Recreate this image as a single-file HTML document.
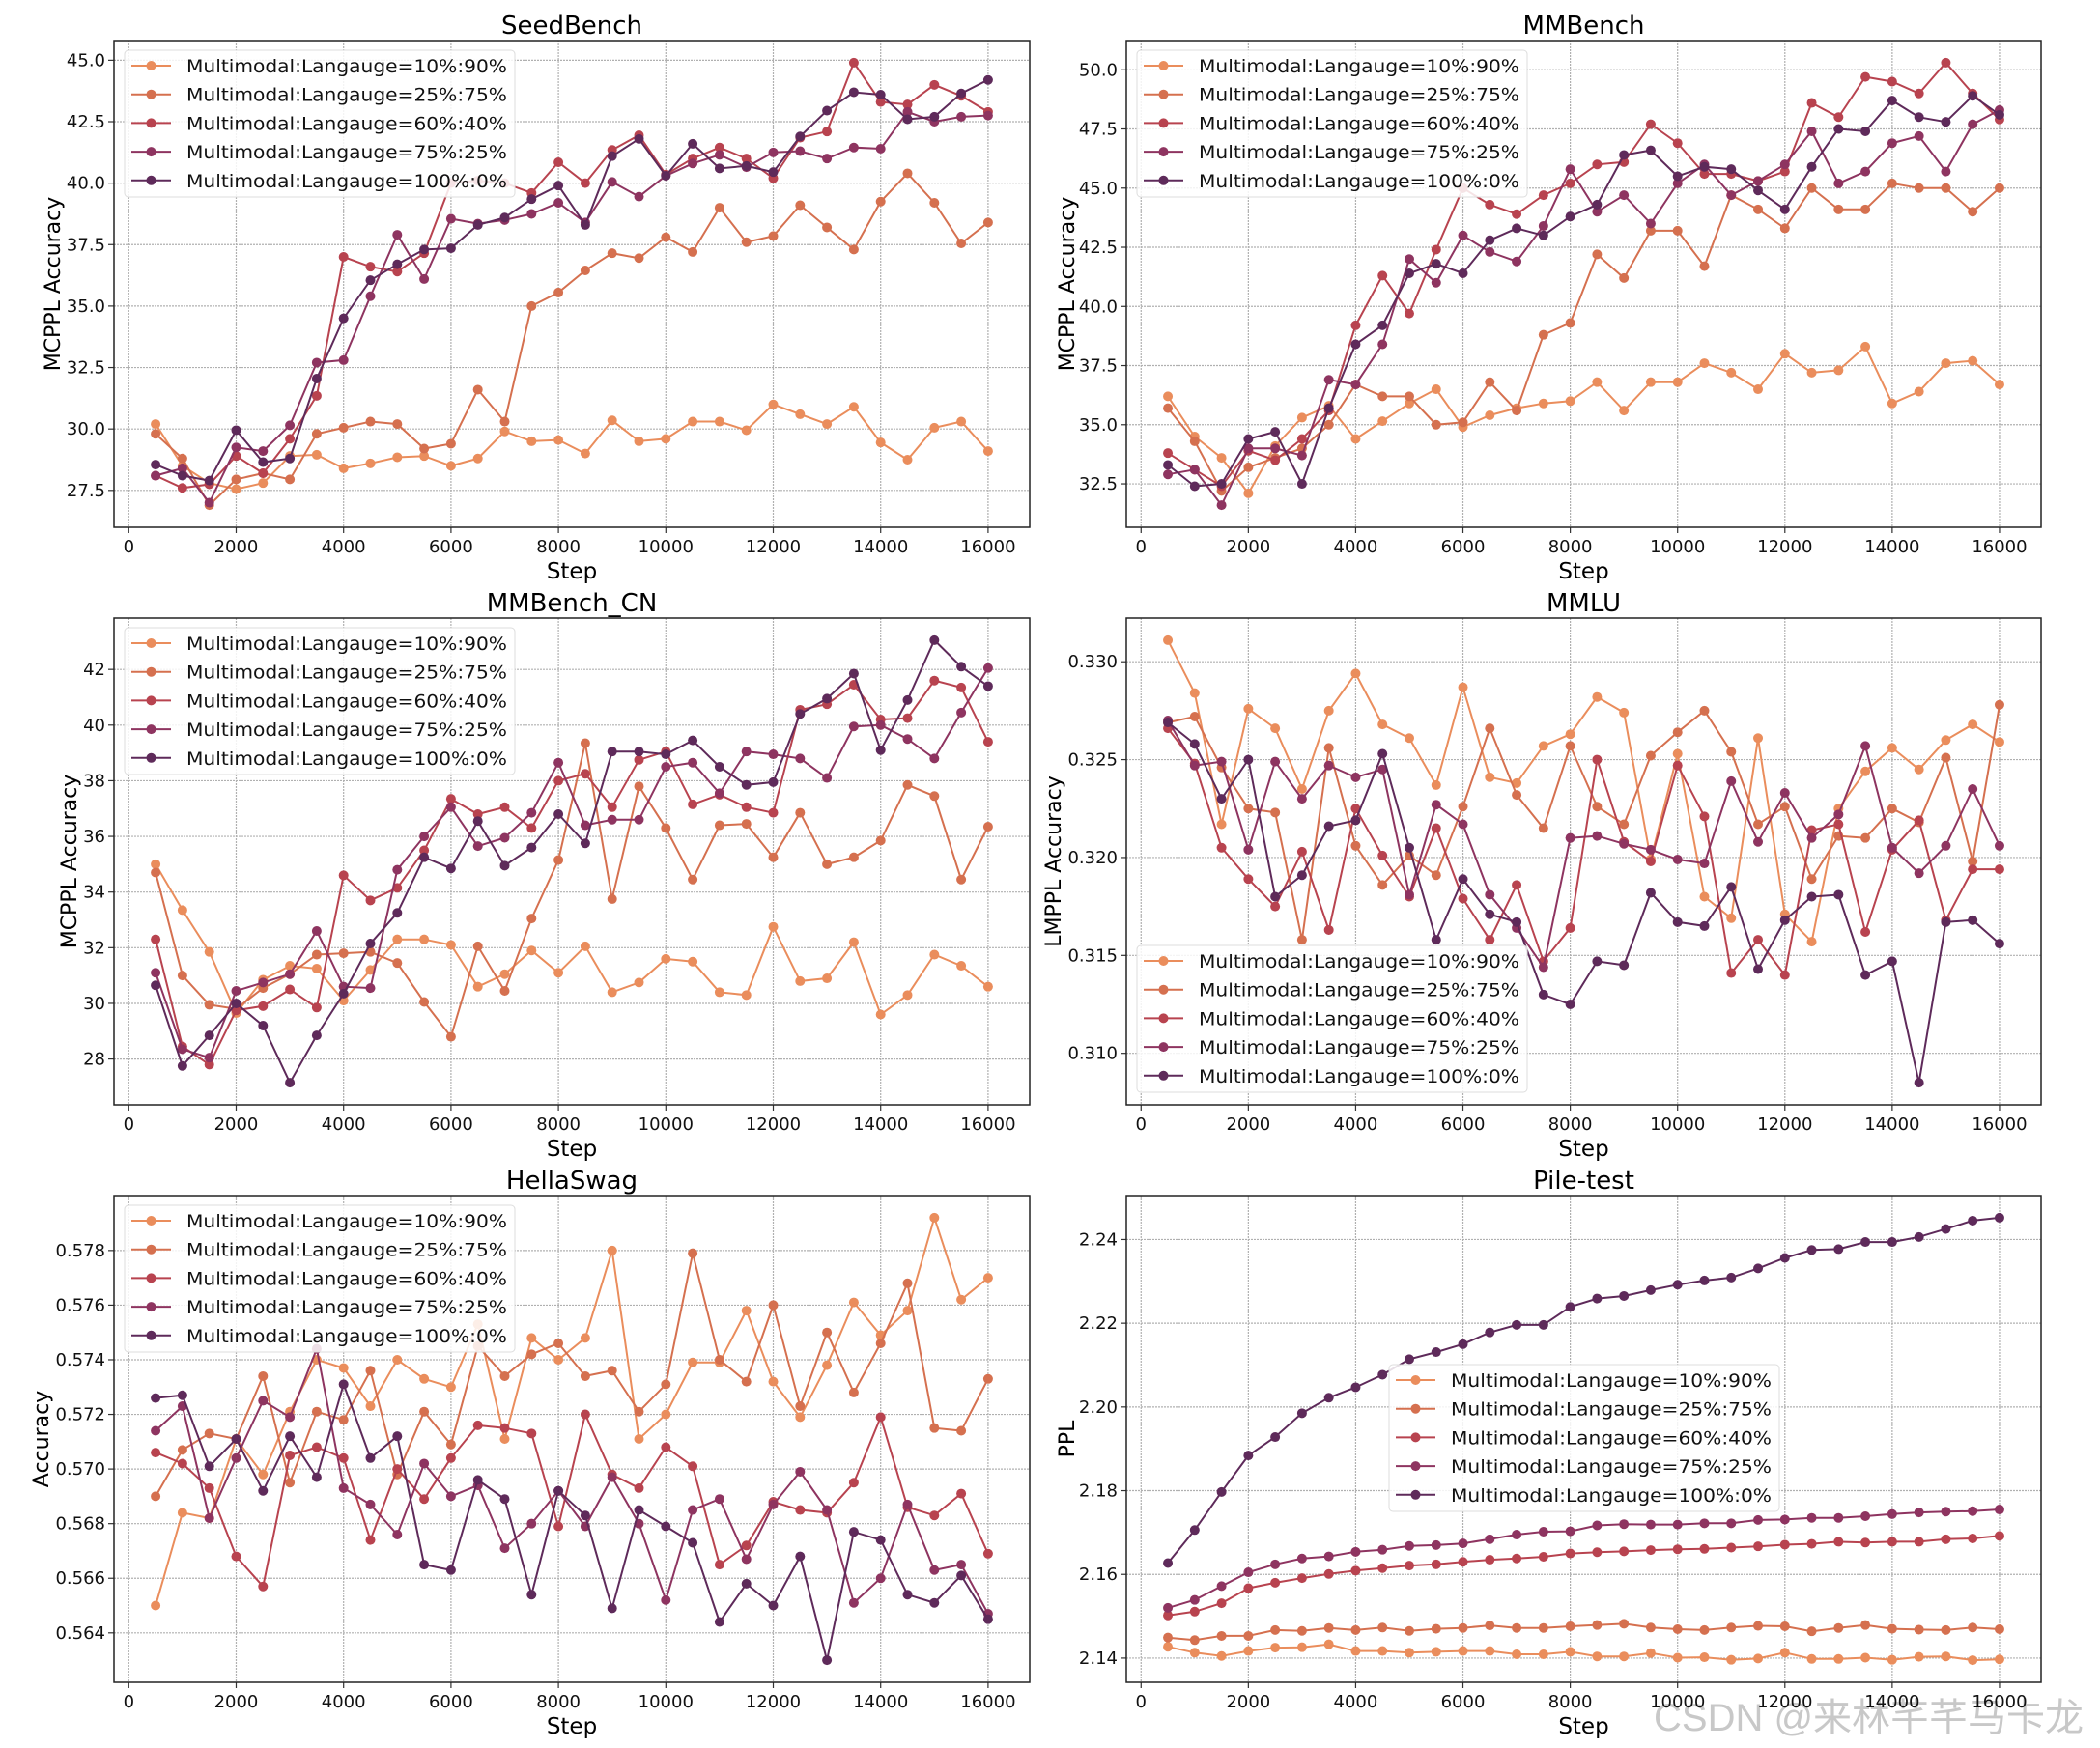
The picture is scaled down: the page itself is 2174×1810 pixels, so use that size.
<!DOCTYPE html>
<html><head><meta charset="utf-8">
<style>
html,body{margin:0;padding:0;background:#fff;}
svg{display:block;font-family:"DejaVu Sans","Liberation Sans","Noto Sans CJK SC",sans-serif;}
</style></head>
<body>
<svg id="fig" width="2174" height="1810" viewBox="0 0 2174 1810" xmlns="http://www.w3.org/2000/svg">
<rect x="0" y="0" width="2174" height="1810" fill="#ffffff"/>
<text x="1712" y="1792" font-size="40" fill="#c8c8c8" font-family="Liberation Sans, Noto Sans CJK SC, sans-serif">CSDN @来林芊芊马卡龙</text>
</svg>
<script>
const steps = [500,1000,1500,2000,2500,3000,3500,4000,4500,5000,5500,6000,6500,7000,7500,8000,8500,9000,9500,10000,10500,11000,11500,12000,12500,13000,13500,14000,14500,15000,15500,16000];
const xTicks = [0,2000,4000,6000,8000,10000,12000,14000,16000];
const seriesNames = ["Multimodal:Langauge=10%:90%","Multimodal:Langauge=25%:75%","Multimodal:Langauge=60%:40%","Multimodal:Langauge=75%:25%","Multimodal:Langauge=100%:0%"];

const seedA = [30.2,28.5,27.8,27.55,27.8,28.9,28.95,28.4,28.6,28.85,28.9,28.5,28.8,29.9,29.5,29.55,29.0,30.35,29.5,29.6,30.3,30.3,29.95,31.0,30.6,30.2,30.9,29.45,28.75,30.05,30.3,29.1];
const seedB = [29.8,28.8,26.9,27.95,28.2,27.95,29.8,30.05,30.3,30.2,29.2,29.4,31.6,30.3,35.0,35.55,36.45,37.15,36.95,37.8,37.2,39.0,37.6,37.85,39.1,38.2,37.3,39.25,40.4,39.2,37.55,38.4];
const seedC = [28.1,27.6,27.75,28.9,28.2,29.6,31.35,37.0,36.6,36.4,37.15,40.0,40.1,40.0,39.6,40.85,40.0,41.35,41.95,40.35,41.0,41.45,41.0,40.2,41.85,42.1,44.9,43.3,43.2,44.0,43.55,42.9];
const seedD = [28.1,28.4,27.0,29.25,29.1,30.15,32.7,32.8,35.4,37.9,36.1,38.55,38.35,38.5,38.75,39.2,38.4,40.05,39.45,40.3,40.8,41.15,40.65,41.25,41.3,41.0,41.45,41.4,42.9,42.5,42.7,42.75];
const seedE = [28.55,28.1,27.9,29.95,28.65,28.8,32.05,34.5,36.05,36.7,37.3,37.35,38.3,38.6,39.35,39.9,38.3,41.1,41.8,40.3,41.6,40.6,40.7,40.45,41.9,42.95,43.7,43.6,42.6,42.7,43.65,44.2];
const seedTicks = [27.5,30.0,32.5,35.0,37.5,40.0,42.5,45.0];

const mmbA = [36.2,34.5,33.6,32.1,34.1,35.3,35.8,34.4,35.15,35.9,36.5,34.9,35.4,35.7,35.9,36.0,36.8,35.6,36.8,36.8,37.6,37.2,36.5,38.0,37.2,37.3,38.3,35.9,36.4,37.6,37.7,36.7];
const mmbB = [35.7,34.3,32.2,33.2,33.6,34.0,35.0,36.7,36.2,36.2,35.0,35.1,36.8,35.6,38.8,39.3,42.2,41.2,43.2,43.2,41.7,44.7,44.1,43.3,45.0,44.1,44.1,45.2,45.0,45.0,44.0,45.0];
const mmbC = [33.8,33.1,32.4,33.9,33.5,34.4,35.6,39.2,41.3,39.7,42.4,45.0,44.3,43.9,44.7,45.2,46.0,46.1,47.7,46.9,45.6,45.6,45.3,45.7,48.6,48.0,49.7,49.5,49.0,50.3,49.0,47.9];
const mmbD = [32.9,33.1,31.6,34.0,34.0,33.7,36.9,36.7,38.4,42.0,41.0,43.0,42.3,41.9,43.4,45.8,44.0,44.7,43.5,45.2,46.0,44.7,45.3,46.0,47.4,45.2,45.7,46.9,47.2,45.7,47.7,48.3];
const mmbE = [33.3,32.4,32.5,34.4,34.7,32.5,35.7,38.4,39.2,41.4,41.8,41.4,42.8,43.3,43.0,43.8,44.3,46.4,46.6,45.5,45.9,45.8,44.9,44.1,45.9,47.5,47.4,48.7,48.0,47.8,48.9,48.1];
const mmbTicks = [32.5,35.0,37.5,40.0,42.5,45.0,47.5,50.0];

const cnA = [35.0,33.35,31.85,29.65,30.85,31.35,31.25,30.1,31.2,32.3,32.3,32.1,30.6,31.05,31.9,31.1,32.05,30.4,30.75,31.6,31.5,30.4,30.3,32.75,30.8,30.9,32.2,29.6,30.3,31.75,31.35,30.6];
const cnB = [34.7,31.0,29.95,29.8,30.55,31.05,31.75,31.8,31.85,31.45,30.05,28.8,32.05,30.45,33.05,35.15,39.35,33.75,37.8,36.3,34.45,36.4,36.45,35.25,36.85,35.0,35.25,35.85,37.85,37.45,34.45,36.35];
const cnC = [32.3,28.45,27.8,29.75,29.9,30.5,29.85,34.6,33.7,34.15,35.5,37.35,36.8,37.05,36.3,38.0,38.25,37.05,38.75,39.05,37.15,37.5,37.05,36.85,40.55,40.75,41.45,40.2,40.25,41.6,41.35,39.4];
const cnD = [31.1,28.35,28.05,30.45,30.75,31.05,32.6,30.6,30.55,34.8,36.0,37.05,35.65,35.95,36.85,38.65,36.4,36.6,36.6,38.5,38.65,37.55,39.05,38.95,38.8,38.1,39.95,40.0,39.5,38.8,40.45,42.05];
const cnE = [30.65,27.75,28.85,30.0,29.2,27.15,28.85,30.35,32.15,33.25,35.25,34.85,36.55,34.95,35.6,36.8,35.75,39.05,39.05,38.95,39.45,38.5,37.85,37.95,40.4,40.95,41.85,39.1,40.9,43.05,42.1,41.4];
const cnTicks = [28,30,32,34,36,38,40,42];

const mmluA = [0.3311,0.3284,0.3217,0.3276,0.3266,0.3235,0.3275,0.3294,0.3268,0.3261,0.3237,0.3287,0.3241,0.3238,0.3257,0.3263,0.3282,0.3274,0.3199,0.3253,0.3180,0.3169,0.3261,0.3171,0.3157,0.3225,0.3244,0.3256,0.3245,0.3260,0.3268,0.3259];
const mmluB = [0.3269,0.3272,0.3246,0.3225,0.3223,0.3158,0.3256,0.3206,0.3186,0.3201,0.3191,0.3226,0.3266,0.3232,0.3215,0.3257,0.3226,0.3217,0.3252,0.3264,0.3275,0.3254,0.3217,0.3226,0.3189,0.3211,0.3210,0.3225,0.3218,0.3251,0.3198,0.3278];
const mmluC = [0.3266,0.3248,0.3205,0.3189,0.3175,0.3203,0.3163,0.3225,0.3201,0.3180,0.3215,0.3179,0.3158,0.3186,0.3147,0.3164,0.3250,0.3208,0.3198,0.3247,0.3221,0.3141,0.3158,0.3140,0.3214,0.3217,0.3162,0.3204,0.3219,0.3168,0.3194,0.3194];
const mmluD = [0.3270,0.3247,0.3249,0.3204,0.3249,0.3230,0.3247,0.3241,0.3245,0.3181,0.3227,0.3217,0.3181,0.3164,0.3144,0.3210,0.3211,0.3207,0.3204,0.3199,0.3197,0.3239,0.3208,0.3233,0.3210,0.3222,0.3257,0.3205,0.3192,0.3206,0.3235,0.3206];
const mmluE = [0.3269,0.3258,0.3230,0.3250,0.3180,0.3191,0.3216,0.3219,0.3253,0.3205,0.3158,0.3189,0.3171,0.3167,0.3130,0.3125,0.3147,0.3145,0.3182,0.3167,0.3165,0.3185,0.3143,0.3168,0.3180,0.3181,0.3140,0.3147,0.3085,0.3167,0.3168,0.3156];
const mmluTicks = [0.310,0.315,0.320,0.325,0.330];

const hsA = [0.5650,0.5684,0.5682,0.5711,0.5698,0.5721,0.5740,0.5737,0.5723,0.5740,0.5733,0.5730,0.5753,0.5711,0.5748,0.5740,0.5748,0.5780,0.5711,0.5720,0.5739,0.5739,0.5758,0.5732,0.5719,0.5738,0.5761,0.5749,0.5758,0.5792,0.5762,0.5770];
const hsB = [0.5690,0.5707,0.5713,0.5711,0.5734,0.5695,0.5721,0.5718,0.5736,0.5698,0.5721,0.5709,0.5745,0.5734,0.5742,0.5746,0.5734,0.5736,0.5721,0.5731,0.5779,0.5740,0.5732,0.5760,0.5723,0.5750,0.5728,0.5746,0.5768,0.5715,0.5714,0.5733];
const hsC = [0.5706,0.5702,0.5693,0.5668,0.5657,0.5705,0.5708,0.5704,0.5674,0.5700,0.5689,0.5704,0.5716,0.5715,0.5713,0.5679,0.5720,0.5698,0.5693,0.5708,0.5701,0.5665,0.5672,0.5688,0.5685,0.5684,0.5695,0.5719,0.5686,0.5683,0.5691,0.5669];
const hsD = [0.5714,0.5723,0.5682,0.5704,0.5725,0.5719,0.5744,0.5693,0.5687,0.5676,0.5702,0.5690,0.5694,0.5671,0.5680,0.5692,0.5679,0.5697,0.5680,0.5652,0.5685,0.5689,0.5667,0.5687,0.5699,0.5685,0.5651,0.5660,0.5687,0.5663,0.5665,0.5647];
const hsE = [0.5726,0.5727,0.5701,0.5711,0.5692,0.5712,0.5697,0.5731,0.5704,0.5712,0.5665,0.5663,0.5696,0.5689,0.5654,0.5692,0.5683,0.5649,0.5685,0.5679,0.5673,0.5644,0.5658,0.5650,0.5668,0.5630,0.5677,0.5674,0.5654,0.5651,0.5661,0.5645];
const hsTicks = [0.564,0.566,0.568,0.570,0.572,0.574,0.576,0.578];

const pileA = [2.1427,2.1413,2.1405,2.1417,2.1425,2.1426,2.1433,2.1417,2.1417,2.1413,2.1415,2.1417,2.1417,2.1409,2.1409,2.1415,2.1404,2.1404,2.1412,2.1401,2.1402,2.1396,2.1399,2.1413,2.1398,2.1398,2.1401,2.1396,2.1403,2.1404,2.1395,2.1397];
const pileB = [2.1449,2.1443,2.1453,2.1453,2.1467,2.1465,2.1472,2.1467,2.1473,2.1465,2.1470,2.1472,2.1478,2.1472,2.1472,2.1476,2.1479,2.1482,2.1473,2.1469,2.1467,2.1473,2.1477,2.1476,2.1464,2.1472,2.1479,2.1470,2.1468,2.1467,2.1473,2.1469];
const pileC = [2.1502,2.1511,2.1531,2.1567,2.1580,2.1591,2.1601,2.1609,2.1615,2.1621,2.1624,2.1630,2.1635,2.1638,2.1642,2.1650,2.1653,2.1655,2.1658,2.1660,2.1661,2.1664,2.1667,2.1671,2.1673,2.1678,2.1676,2.1678,2.1678,2.1684,2.1686,2.1692];
const pileD = [2.1520,2.1539,2.1572,2.1605,2.1624,2.1638,2.1643,2.1654,2.1659,2.1668,2.1670,2.1674,2.1684,2.1695,2.1702,2.1703,2.1717,2.1720,2.1719,2.1719,2.1722,2.1722,2.1730,2.1731,2.1735,2.1735,2.1739,2.1744,2.1748,2.1750,2.1751,2.1755];
const pileE = [2.1627,2.1706,2.1797,2.1884,2.1928,2.1985,2.2022,2.2047,2.2077,2.2114,2.2131,2.2150,2.2178,2.2196,2.2196,2.2239,2.2259,2.2265,2.2279,2.2292,2.2302,2.2309,2.2331,2.2356,2.2375,2.2377,2.2394,2.2394,2.2406,2.2425,2.2445,2.2452];
const pileTicks = [2.14,2.16,2.18,2.20,2.22,2.24];

const colors = ["#ea8d5c","#d5704f","#b8434f","#8e3460","#5e2a5a"];
const NS = "http://www.w3.org/2000/svg";
const svg = document.getElementById('fig');

function mk(tag, attrs, parent){
  const e = document.createElementNS(NS, tag);
  for (const k in attrs) e.setAttribute(k, attrs[k]);
  (parent||svg).appendChild(e);
  return e;
}

function drawChart(cfg){
  const g = mk('g', {});
  
  
  const L=cfg.L, R=cfg.R, T=cfg.T, B=cfg.B;
  const xmin = Math.min(...steps), xmax = Math.max(...steps), xr = xmax-xmin;
  const x0 = xmin-0.05*xr, x1 = xmax+0.05*xr;
  let all = [];
  cfg.series.forEach(s=>{ all = all.concat(s); });
  const ymin = Math.min(...all), ymax = Math.max(...all), yr = ymax-ymin;
  const y0 = ymin-0.05*yr, y1 = ymax+0.05*yr;
  const X = v => L + (v-x0)/(x1-x0)*(R-L);
  const Y = v => B - (v-y0)/(y1-y0)*(B-T);
  xTicks.forEach(t=>{
    const ln = mk('line', {x1:X(t), x2:X(t), y1:T, y2:B, stroke:'#b0b0b0', 'stroke-width':1.2, 'stroke-dasharray':'2,1'}, g);
    
    
    const tk = mk('line', {x1:X(t), x2:X(t), y1:B, y2:B+6, stroke:'#333', 'stroke-width':1.2}, g);
    
    
    const tx = mk('text', {x:X(t), y:B+26, 'font-size':18, 'text-anchor':'middle', fill:'#111'}, g);
    tx.textContent = String(t);
    
    
  });
  cfg.ticks.forEach(t=>{
    const ln = mk('line', {x1:L, x2:R, y1:Y(t), y2:Y(t), stroke:'#b0b0b0', 'stroke-width':1.2, 'stroke-dasharray':'2,1'}, g);
    
    
    const tk = mk('line', {x1:L-6, x2:L, y1:Y(t), y2:Y(t), stroke:'#333', 'stroke-width':1.2}, g);
    
    
    const tx = mk('text', {x:L-9, y:Y(t)+6, 'font-size':18, 'text-anchor':'end', fill:'#111'}, g);
    tx.textContent = t.toFixed(cfg.dec);
    
    
  });
  cfg.series.forEach((s,i)=>{
    const sg = mk('g', {}, g);
    
    
    const pts = s.map((v,j)=>X(steps[j]).toFixed(1)+','+Y(v).toFixed(1)).join(' ');
    const pl = mk('polyline', {points:pts, fill:'none', stroke:colors[i], 'stroke-width':2}, sg);
    
    
    s.forEach((v,j)=>{
      const c = mk('circle', {cx:X(steps[j]), cy:Y(v), r:5, fill:colors[i]}, sg);
      
      
    });
  });
  const fr = mk('rect', {x:L, y:T, width:R-L, height:B-T, fill:'none', stroke:'#222', 'stroke-width':1.5}, g);
  
  
  const ti = mk('text', {x:(L+R)/2, y:T-7, 'font-size':26, 'text-anchor':'middle', fill:'#000'}, g);
  ti.textContent = cfg.title;
  
  
  const xl = mk('text', {x:(L+R)/2, y:B+53, 'font-size':23, 'text-anchor':'middle', fill:'#000'}, g);
  xl.textContent = 'Step';
  
  
  const cy = (T+B)/2;
  const yl = mk('text', {x:cfg.ylx, y:cy, 'font-size':22, 'text-anchor':'middle', fill:'#000', transform:'rotate(-90 '+cfg.ylx+' '+cy+')'}, g);
  yl.textContent = cfg.ylabel;
  
  
  const lg = mk('g', {}, g);
  
  
  const lx = cfg.lx, ly = cfg.ly;
  const bx = mk('rect', {x:lx, y:ly, width:404, height:152, rx:4, fill:'#ffffff', 'fill-opacity':0.85, stroke:'#dddddd', 'stroke-width':1}, lg);
  
  
  seriesNames.forEach((n,i)=>{
    const ry = ly + 16 + i*29.7;
    const eg = mk('g', {}, lg);
    
    
    mk('line', {x1:lx+7, x2:lx+48, y1:ry, y2:ry, stroke:colors[i], 'stroke-width':2}, eg);
    mk('circle', {cx:lx+27.5, cy:ry, r:5, fill:colors[i]}, eg);
    const t = mk('text', {x:lx+64, y:ry+7, 'font-size':19, fill:'#111', textLength:332, lengthAdjust:'spacingAndGlyphs'}, eg);
    t.textContent = n;
  });
}

const LC=[118,1066], RC=[1166,2113];
drawChart({name:'seedbench', title:'SeedBench', L:LC[0], R:LC[1], T:42, B:546, series:[seedA,seedB,seedC,seedD,seedE], ticks:seedTicks, dec:1, ylabel:'MCPPL Accuracy', ylx:62, lx:129, ly:52});
drawChart({name:'mmbench', title:'MMBench', L:RC[0], R:RC[1], T:42, B:546, series:[mmbA,mmbB,mmbC,mmbD,mmbE], ticks:mmbTicks, dec:1, ylabel:'MCPPL Accuracy', ylx:1112, lx:1177, ly:52});
drawChart({name:'mmbench-cn', title:'MMBench_CN', L:LC[0], R:LC[1], T:640, B:1144, series:[cnA,cnB,cnC,cnD,cnE], ticks:cnTicks, dec:0, ylabel:'MCPPL Accuracy', ylx:79, lx:129, ly:650});
drawChart({name:'mmlu', title:'MMLU', L:RC[0], R:RC[1], T:640, B:1144, series:[mmluA,mmluB,mmluC,mmluD,mmluE], ticks:mmluTicks, dec:3, ylabel:'LMPPL Accuracy', ylx:1098, lx:1177, ly:979});
drawChart({name:'hellaswag', title:'HellaSwag', L:LC[0], R:LC[1], T:1238, B:1742, series:[hsA,hsB,hsC,hsD,hsE], ticks:hsTicks, dec:3, ylabel:'Accuracy', ylx:50, lx:129, ly:1248});
drawChart({name:'pile-test', title:'Pile-test', L:RC[0], R:RC[1], T:1238, B:1742, series:[pileA,pileB,pileC,pileD,pileE], ticks:pileTicks, dec:2, ylabel:'PPL', ylx:1112, lx:1438, ly:1413});
</script>
</body></html>
